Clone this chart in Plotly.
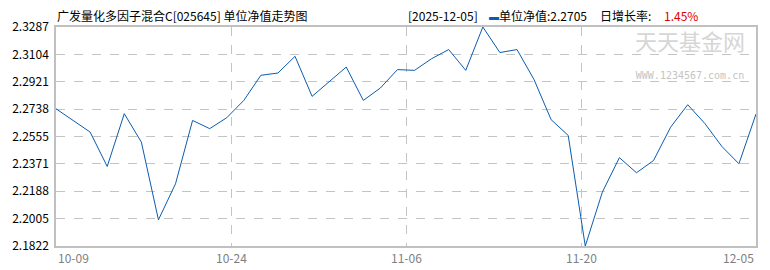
import numpy as np
import plotly.graph_objects as go

dates = ["10-09","10-10","10-13","10-14","10-15","10-16","10-17","10-20","10-21","10-22",
         "10-23","10-24","10-27","10-28","10-29","10-30","10-31","11-03","11-04","11-05",
         "11-06","11-07","11-10","11-11","11-12","11-13","11-14","11-17","11-18","11-19",
         "11-20","11-21","11-24","11-25","11-26","11-27","11-28","12-01","12-02","12-03",
         "12-04","12-05"]
nav = [2.2740, 2.2662, 2.2584, 2.2354, 2.2707, 2.2517, 2.1997, 2.2238, 2.2662, 2.2607,
       2.2680, 2.2796, 2.2964, 2.2979, 2.3091, 2.2823, 2.2919, 2.3019, 2.2796, 2.2879,
       2.3002, 2.2997, 2.3075, 2.3136, 2.2997, 2.3287, 2.3116, 2.3136, 2.2935, 2.2667,
       2.2562, 2.1822, 2.2182, 2.2413, 2.2312, 2.2394, 2.2617, 2.2767, 2.2642, 2.2488,
       2.2372, 2.2705]
x_tick_labels = ["10-09", "10-24", "11-06", "11-20", "12-05"]
title_text = "广发量化多因子混合C[025645] 单位净值走势图"
latest_date = "2025-12-05"
latest_nav = "2.2705"
daily_growth = "1.45%"

FONT = "Noto Sans CJK SC"
BLUE = "#0b5cb0"
W, H = 770, 270
L, R, T, B = 53, 12, 27, 24
PW, PH = W - L - R, H - T - B

xs = list(range(len(nav)))
ymin, ymax = min(nav), max(nav)
yticks = np.linspace(ymin, ymax, 9)
xticks = np.linspace(0, len(nav) - 1, len(x_tick_labels))

fig = go.Figure()
fig.add_trace(go.Scatter(x=xs, y=nav, mode="lines",
                         line=dict(color=BLUE, width=1), hoverinfo="skip"))

fig.update_layout(
    width=W, height=H,
    margin=dict(l=L, r=R, t=T, b=B),
    paper_bgcolor="white", plot_bgcolor="white",
    showlegend=False,
    font=dict(family=FONT, size=12, color="black"),
)
fig.update_xaxes(range=[0, len(nav) - 1], tickvals=list(xticks), showticklabels=False,
                 showgrid=True, gridcolor="#c4c4c4", griddash="dash", gridwidth=1,
                 showline=True, linecolor="#c0c0c0", linewidth=1.5, mirror=True,
                 zeroline=False, ticks="")
fig.update_yaxes(range=[ymin, ymax], tickvals=list(yticks),
                 ticktext=[f"{v + 1e-9:.4f}" for v in yticks],
                 tickfont=dict(family=FONT, size=12, color="black"),
                 showgrid=True, gridcolor="#c4c4c4", griddash="dash", gridwidth=1,
                 showline=True, linecolor="#c0c0c0", linewidth=1.5, mirror=True,
                 zeroline=False, ticks="", ticklabelstandoff=3)

anns = []
for i, (pos, lab) in enumerate(zip(xticks, x_tick_labels)):
    anchor = "left" if i == 0 else ("right" if i == len(x_tick_labels) - 1 else "center")
    anns.append(dict(x=pos, y=0, xref="x", yref="paper", yanchor="top", yshift=-1,
                     xanchor=anchor, text=lab, showarrow=False,
                     font=dict(family=FONT, size=12, color="#808080")))


def px_ann(px, py, text, size=12, color="black", anchor="left", family=FONT, **kw):
    anns.append(dict(x=(px - L) / PW, y=(T + PH - py) / PH, xref="paper", yref="paper",
                     text=text, showarrow=False, xanchor=anchor, yanchor="middle",
                     font=dict(family=family, size=size, color=color), **kw))


px_ann(52, 15, title_text, size=12)
px_ann(405, 15, f"[{latest_date}]", size=12)
px_ann(487, 15, "▬", size=10, color=BLUE)
px_ann(497, 15, f"单位净值:{latest_nav}", size=12)
px_ann(599, 15, "日增长率:", size=12)
px_ann(663, 15, daily_growth, size=12, color="#e00000")
px_ann(692, 52,
       "天天基金网<br><span style='font-size:10px;font-family:DejaVu Sans Mono;"
       "color:#c4c4c4'>WWW.1234567.com.cn</span>",
       size=22, color="#d6d6d6", anchor="center", align="center")

fig.update_layout(annotations=anns)

fig.write_html("out.html")
